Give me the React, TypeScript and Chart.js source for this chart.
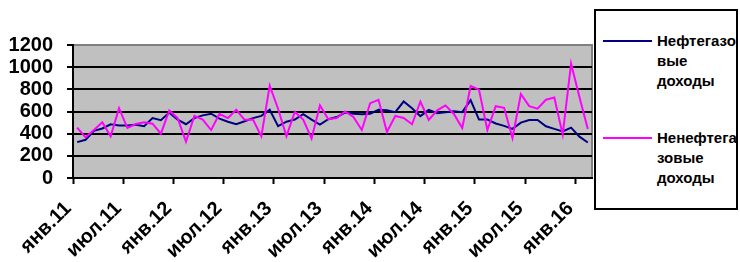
import React, { useEffect, useRef } from 'react';
import { Chart, registerables } from 'chart.js';

Chart.register(...registerables);

const months: string[] = [
  'янв.11','фев.11','мар.11','апр.11','май.11','июн.11','июл.11','авг.11','сен.11','окт.11','ноя.11','дек.11',
  'янв.12','фев.12','мар.12','апр.12','май.12','июн.12','июл.12','авг.12','сен.12','окт.12','ноя.12','дек.12',
  'янв.13','фев.13','мар.13','апр.13','май.13','июн.13','июл.13','авг.13','сен.13','окт.13','ноя.13','дек.13',
  'янв.14','фев.14','мар.14','апр.14','май.14','июн.14','июл.14','авг.14','сен.14','окт.14','ноя.14','дек.14',
  'янв.15','фев.15','мар.15','апр.15','май.15','июн.15','июл.15','авг.15','сен.15','окт.15','ноя.15','дек.15',
  'янв.16','фев.16',
];

const oilGasRevenue: number[] = [
  324, 345, 425, 447, 485, 473, 473, 480, 467, 540, 521, 590,
  527, 485, 540, 565, 580, 535, 508, 485, 512, 540, 560, 615,
  467, 508, 527, 576, 527, 482, 530, 550, 590, 580, 576, 580,
  615, 612, 594, 690, 630, 558, 615, 585, 594, 603, 594, 703,
  527, 527, 492, 470, 443, 500, 524, 524, 467, 443, 421, 454,
  373, 320,
];

const nonOilGasRevenue: number[] = [
  454, 367, 433, 503, 376, 630, 451, 487, 503, 490, 400, 610,
  540, 327, 560, 527, 433, 579, 540, 615, 525, 527, 376, 833,
  625, 376, 598, 527, 356, 655, 530, 542, 600, 551, 433, 675,
  706, 416, 560, 542, 485, 690, 524, 610, 655, 578, 451, 830,
  797, 433, 648, 633, 360, 758, 648, 625, 706, 727, 391, 1033,
  730, 443,
];

const seriesNames: string[] = ['Нефтегазовые доходы', 'Ненефтегазовые доходы'];
const legendLines1: string[] = ['Нефтегазо', 'вые', 'доходы'];
const legendLines2: string[] = ['Ненефтега', 'зовые', 'доходы'];

const FONT = '"Liberation Sans", Arial, sans-serif';

const plotBg = {
  id: 'plotBg',
  beforeDraw(chart: any) {
    const { ctx, chartArea: a } = chart;
    ctx.save();
    ctx.fillStyle = '#C0C0C0';
    ctx.fillRect(a.left, a.top, a.right - a.left, a.bottom - a.top);
    ctx.strokeStyle = '#808080';
    ctx.lineWidth = 2;
    ctx.strokeRect(a.left, a.top, a.right - a.left, a.bottom - a.top);
    ctx.restore();
  },
};

export default function App() {
  const ref = useRef<HTMLCanvasElement>(null);

  useEffect(() => {
    if (!ref.current) return;
    const chart = new Chart(ref.current, {
      type: 'line',
      data: {
        labels: months,
        datasets: [
          {
            label: seriesNames[0],
            data: oilGasRevenue,
            borderColor: '#000080',
            backgroundColor: '#000080',
            borderWidth: 2,
            pointRadius: 0,
            tension: 0,
            fill: false,
            order: 1,
          },
          {
            label: seriesNames[1],
            data: nonOilGasRevenue,
            borderColor: '#FF00FF',
            backgroundColor: '#FF00FF',
            borderWidth: 2,
            pointRadius: 0,
            tension: 0,
            fill: false,
            order: 0,
          },
        ],
      },
      options: {
        animation: false,
        responsive: false,
        devicePixelRatio: 1,
        layout: { padding: { left: 0, right: 148, top: 45, bottom: 0 } },
        plugins: { legend: { display: false }, tooltip: { enabled: false } },
        scales: {
          x: {
            type: 'category',
            offset: true,
            grid: {
              offset: true,
              drawOnChartArea: false,
              drawTicks: true,
              tickLength: 6,
              tickWidth: 2,
              tickColor: (ctx: any) => (ctx.index % 6 === 0 ? '#000' : 'rgba(0,0,0,0)'),
            },
            border: { display: true, color: '#000', width: 2 },
            ticks: {
              autoSkip: false,
              maxRotation: 45,
              minRotation: 45,
              padding: 13,
              labelOffset: -9,
              color: '#000',
              font: { family: FONT, size: 20, weight: 'bold' },
              callback: (_v: any, i: number) => (i % 6 === 0 ? months[i] : ''),
            },
            afterFit: (s: any) => {
              s.height = 84;
            },
          },
          y: {
            min: 0,
            max: 1200,
            grid: {
              color: (ctx: any) => (ctx.tick && ctx.tick.value === 1200 ? '#808080' : '#000'),
              lineWidth: 2,
              tickLength: 6,
              tickColor: '#000',
            },
            border: { display: true, color: '#000', width: 2 },
            ticks: {
              stepSize: 200,
              autoSkip: false,
              padding: 14,
              color: '#000',
              font: { family: FONT, size: 20, weight: 'bold' },
              callback: (v: any) => String(v),
            },
            afterFit: (s: any) => {
              s.width = 73;
            },
          },
        },
      },
      plugins: [plotBg],
    } as any);
    return () => chart.destroy();
  }, []);

  const textStyle: React.CSSProperties = {
    position: 'absolute',
    fontFamily: FONT,
    fontWeight: 'bold',
    fontSize: 15,
    lineHeight: '20px',
    color: '#000',
    whiteSpace: 'nowrap',
  };

  return (
    <div style={{ position: 'fixed', left: 0, top: 0, width: 740, height: 262, background: '#fff' }}>
      <canvas ref={ref} width={740} height={262} style={{ position: 'absolute', left: 0, top: 0 }} />
      <div
        style={{
          position: 'absolute',
          left: 594,
          top: 9,
          width: 144,
          height: 201,
          border: '2px solid #000',
          boxSizing: 'border-box',
          background: '#fff',
        }}
      />
      <div style={{ position: 'absolute', left: 603, top: 40, width: 49, height: 2, background: '#000080' }} />
      <div style={{ ...textStyle, left: 657, top: 31 }}>
        {legendLines1.map((t, i) => (
          <div key={i}>{t}</div>
        ))}
      </div>
      <div style={{ position: 'absolute', left: 603, top: 137, width: 49, height: 2, background: '#FF00FF' }} />
      <div style={{ ...textStyle, left: 657, top: 128 }}>
        {legendLines2.map((t, i) => (
          <div key={i}>{t}</div>
        ))}
      </div>
    </div>
  );
}
